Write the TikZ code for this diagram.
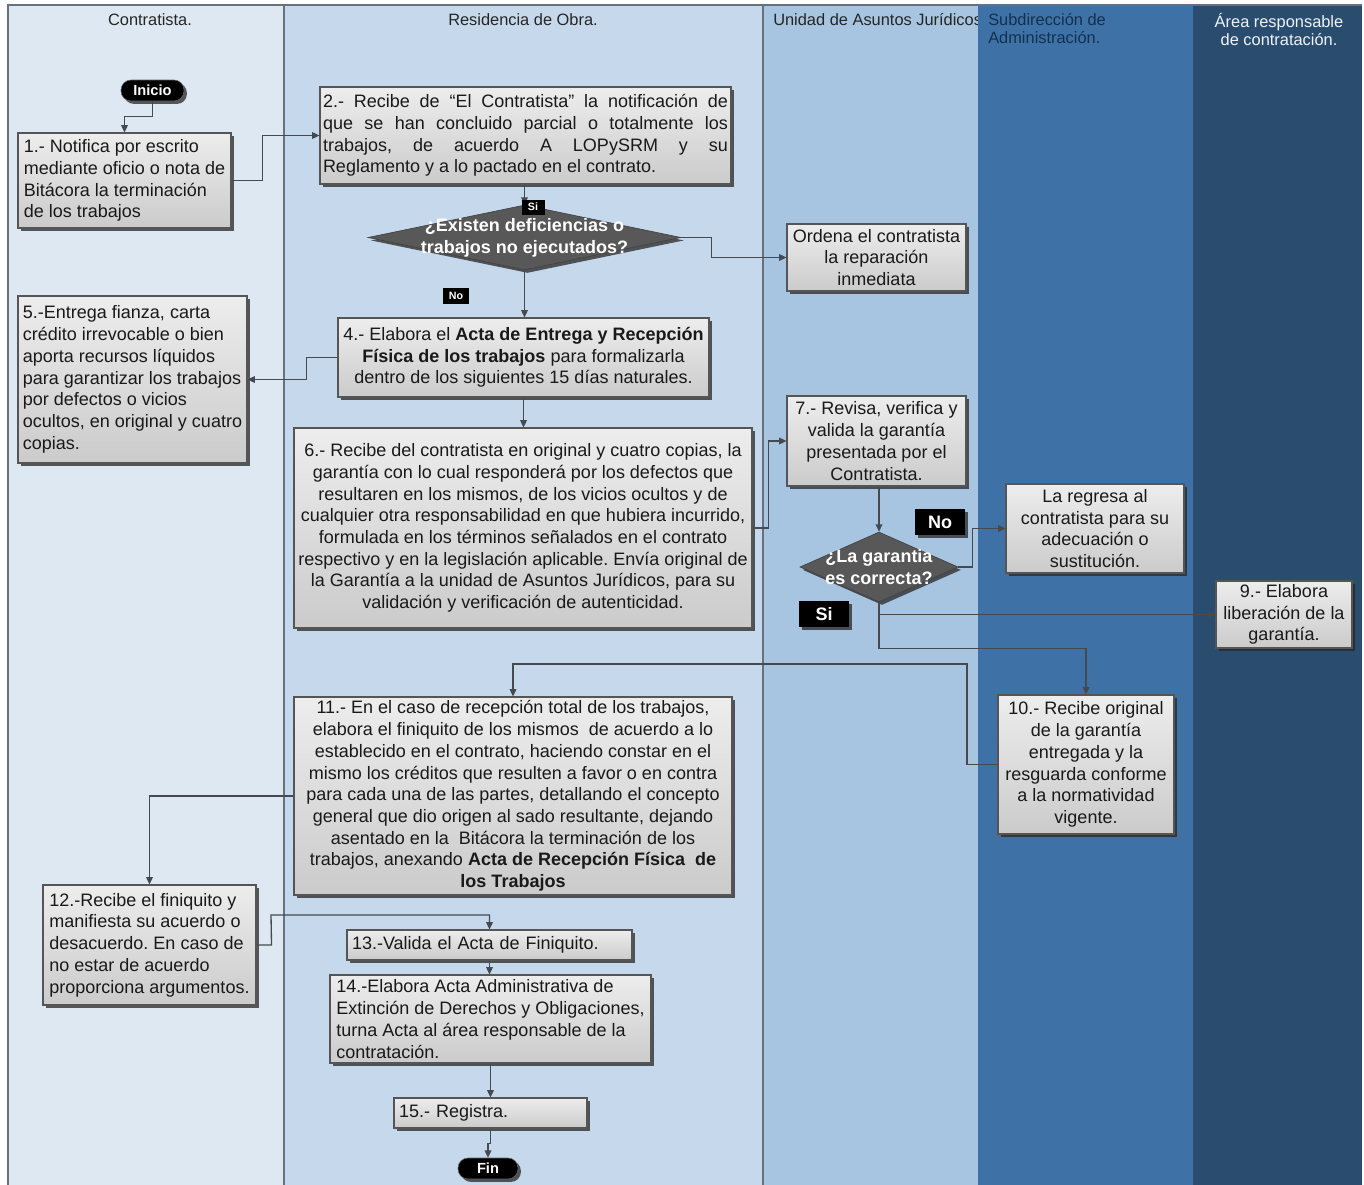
\documentclass[tikz,border=0pt]{standalone}
\usepackage{fontspec}
\setmainfont{Liberation Sans}
\frenchspacing
\usetikzlibrary{arrows.meta,shapes.geometric,shadows}

\definecolor{laneA}{HTML}{DDE8F3}
\definecolor{laneB}{HTML}{C6D9EC}
\definecolor{laneC}{HTML}{A7C4E0}
\definecolor{laneD}{HTML}{3E72A6}
\definecolor{laneE}{HTML}{2A4D6F}
\definecolor{laneline}{HTML}{66717D}
\definecolor{wire}{HTML}{444A50}
\definecolor{boxtop}{HTML}{EDEDED}
\definecolor{boxbot}{HTML}{CBCBCB}
\definecolor{boxedge}{HTML}{555555}
\definecolor{decfill}{HTML}{585858}
\definecolor{headdark}{HTML}{14304E}
\definecolor{headlight}{HTML}{EEF3F8}

\tikzset{
  sz/.style 2 args={minimum width=#1*0.75pt, minimum height=#2*0.75pt},
  txt/.style={font=\fontsize{13.5}{16.3}\selectfont, text=black!90},
  shade/.style={drop shadow={shadow xshift=2.2pt, shadow yshift=-2.2pt, fill=black!85, opacity=0.75}},
  box/.style={txt, shade, draw=boxedge, line width=0.8pt, top color=boxtop, bottom color=boxbot, inner sep=0pt},
  decision/.style={diamond, shade, fill=decfill, draw=decfill!75!black, line width=0.5pt, inner sep=0pt},
  dectext/.style={font=\fontsize{13.5}{16.5}\selectfont\bfseries, text=white, align=center, inner sep=0pt},
  term/.style={shade, fill=black, draw=black!60, rounded corners=7.5pt, text=white, font=\fontsize{11}{13}\selectfont\bfseries, inner sep=0pt},
  smalltag/.style={fill=black, text=white, font=\fontsize{8}{9}\selectfont\bfseries, inner sep=0pt},
  bigtag/.style={shade, fill=black, text=white, font=\fontsize{13.5}{15}\selectfont\bfseries, inner sep=0pt},
  arr/.style={draw=wire, line width=1pt, -{Triangle[length=5.5pt,width=5pt]}},
  lanehead/.style={font=\fontsize{12.3}{13.5}\selectfont, inner sep=0pt},
}

\begin{document}
\begin{tikzpicture}[x=0.75pt,y=-0.75pt]
\useasboundingbox (0,0) rectangle (1364,1185);
\fill[white] (0,0) rectangle (1364,1185);

% swimlanes
\fill[laneA] (8,5) rectangle (284,1185);
\fill[laneB] (284,5) rectangle (763,1185);
\fill[laneC] (763,5) rectangle (978,1185);
\begin{scope}
  \clip (763,5) rectangle (978,60);
  \node[lanehead, anchor=west, text=black!85] (hC) at (773,20) {Unidad de Asuntos Jurídicos};
\end{scope}
\fill[laneD] (978,5) rectangle (1193,1185);
\fill[laneE] (1193,5) rectangle (1362,1185);
\draw[laneline, line width=0.8pt] (8,1185) -- (8,5) -- (1362,5);
\draw[laneline, line width=0.8pt] (284,5) -- (284,1185);
\draw[laneline, line width=0.8pt] (763,5) -- (763,1185);

\node[lanehead, text=black!85] (hA) at (150,20) {Contratista.};
\node[lanehead, text=black!85] (hB) at (523,20) {Residencia de Obra.};
\node[lanehead, text=headdark, align=left, anchor=north west] (hD) at (988,13) {Subdirección de\\Administración.};
\node[lanehead, text=headlight, align=center, anchor=north] (hE) at (1279,13) {Área responsable\\de contratación.};

% steps
\node[term, sz={63}{21}] (ini) at (152.5,90.5) {Inicio};

\node[box, sz={213}{95}, align=left] (b1) at (124.5,180.5)
  {1.- Notifica por escrito\\mediante oficio o nota de\\Bitácora la terminación\\de los trabajos};

\node[box, sz={411}{97}, text width=303.75pt, align=justify] (b2) at (525.5,135.5)
  {2.- Recibe de “El Contratista” la notificación de\linebreak
   que se han concluido parcial o totalmente los\linebreak
   trabajos, de acuerdo A LOPySRM y su\linebreak
   Reglamento y a lo pactado en el contrato.};

\node[decision, sz={313}{65}] (d1) at (524.5,237.5) {};
\node[dectext] (d1t) at (d1.center) {¿Existen deficiencias o\\trabajos no ejecutados?};

\node[box, sz={179}{67}, align=center] (ord) at (876.5,257.5)
  {Ordena el contratista\\la reparación\\inmediata};

\node[box, sz={371}{79}, align=center] (b4) at (523.5,357.5)
  {4.- Elabora el \textbf{Acta de Entrega y Recepción}\\\textbf{Física de los trabajos} para formalizarla\\dentro de los siguientes 15 días naturales.};

\node[box, sz={229}{167}, align=left] (b5) at (132.5,379.5)
  {5.-Entrega fianza, carta\\crédito irrevocable o bien\\aporta recursos líquidos\\para garantizar los trabajos\\por defectos o vicios\\ocultos, en original y cuatro\\copias.};

\node[box, sz={458}{200}, align=center] (b6) at (523,528)
  {6.- Recibe del contratista en original y cuatro copias, la\\
   garantía con lo cual responderá por los defectos que\\
   resultaren en los mismos, de los vicios ocultos y de\\
   cualquier otra responsabilidad en que hubiera incurrido,\\
   formulada en los términos señalados en el contrato\\
   respectivo y en la legislación aplicable. Envía original de\\
   la Garantía a la unidad de Asuntos Jurídicos, para su\\
   validación y verificación de autenticidad.};

\node[box, sz={179}{90}, align=center] (b7) at (876.5,441)
  {7.- Revisa, verifica y\\valida la garantía\\presentada por el\\Contratista.};

\node[decision, sz={158}{70}] (d2) at (879,567) {};
\node[dectext] (d2t) at (d2.center) {¿La garantia\\es correcta?};

\node[box, sz={178}{89}, align=center] (reg) at (1095,528.5)
  {La regresa al\\contratista para su\\adecuación o\\sustitución.};

\node[box, sz={136}{67}, align=center] (b9) at (1284,614.5)
  {9.- Elabora\\liberación de la\\garantía.};

\node[box, sz={176}{139}, align=center] (b10) at (1086,764.5)
  {10.- Recibe original\\de la garantía\\entregada y la\\resguarda conforme\\a la normatividad\\vigente.};

\node[box, sz={438}{198}, align=center] (b11) at (513,796)
  {11.- En el caso de recepción total de los trabajos,\\
   elabora el finiquito de los mismos\ \ de acuerdo a lo\\
   establecido en el contrato, haciendo constar en el\\
   mismo los créditos que resulten a favor o en contra\\
   para cada una de las partes, detallando el concepto\\
   general que dio origen al sado resultante, dejando\\
   asentado en la\ \ Bitácora la terminación de los\\
   trabajos, anexando \textbf{Acta de Recepción Física\ \ de}\\
   \textbf{los Trabajos}};

\node[box, sz={213}{120}, align=left] (b12) at (149.5,945)
  {12.-Recibe el finiquito y\\manifiesta su acuerdo o\\desacuerdo. En caso de\\no estar de acuerdo\\proporciona argumentos.};

\node[box, sz={285}{30}, text width=206.25pt, align=left] (b13) at (489.5,945)
  {13.-Valida el Acta de Finiquito.};

\node[box, sz={321}{88}, align=left] (b14) at (490.5,1019)
  {14.-Elabora Acta Administrativa de\\Extinción de Derechos y Obligaciones,\\turna Acta al área responsable de la\\contratación.};

\node[box, sz={193}{30}, text width=137.25pt, align=left] (b15) at (490.5,1113)
  {15.- Registra.};

\node[term, sz={60}{21}] (fin) at (488,1168.5) {Fin};

% connectors
\draw[arr] (ini.south) -- ++(0,15) -| (b1.north);
\draw[arr] (b1.east) -- ++(31,0) |- (b2.west);
\draw[arr] (d1.north |- b2.south) -- (d1.north);
\draw[arr] (d1.east) -- ++(30,0) |- (ord.west);
\draw[arr] (d1.south) -- (d1.south |- b4.north);
\draw[arr] (b4.west) -- ++(-31,0) |- (b5.east);
\draw[arr] (b4.south) -- (b4.south |- b6.north);
\draw[arr] (b6.east) -- ++(16,0) |- (b7.west);
\draw[arr] (d2.north |- b7.south) -- (d2.north);
\draw[arr] (d2.east) -- ++(14,0) |- (reg.west);
\draw[arr] (d2.south) |- (b9.west);
\draw[arr] (d2.south) -- ++(0,46) -| (b10.north);
\draw[arr] (b10.west) -| (967,664) -| (b11.north);
\draw[arr] (b11.west) -| (b12.north);
\draw[arr] (b12.east) -- ++(15,0) -- (271,915) -| (b13.north);
\draw[arr] (b13.south) -- (b13.south |- b14.north);
\draw[arr] (b14.south) -- (b14.south |- b15.north);
\draw[arr] (b15.south) -- ++(0,15) -| (fin.north);

% branch tags
\node[smalltag, sz={23}{15}] (si1) at (533,207) {Si};
\node[smalltag, sz={26}{16}] (no1) at (456,296) {No};
\node[bigtag, sz={50}{26}] (no2) at (940,522) {No};
\node[bigtag, sz={50}{26}] (si2) at (824,614) {Si};
\end{tikzpicture}
\end{document}
